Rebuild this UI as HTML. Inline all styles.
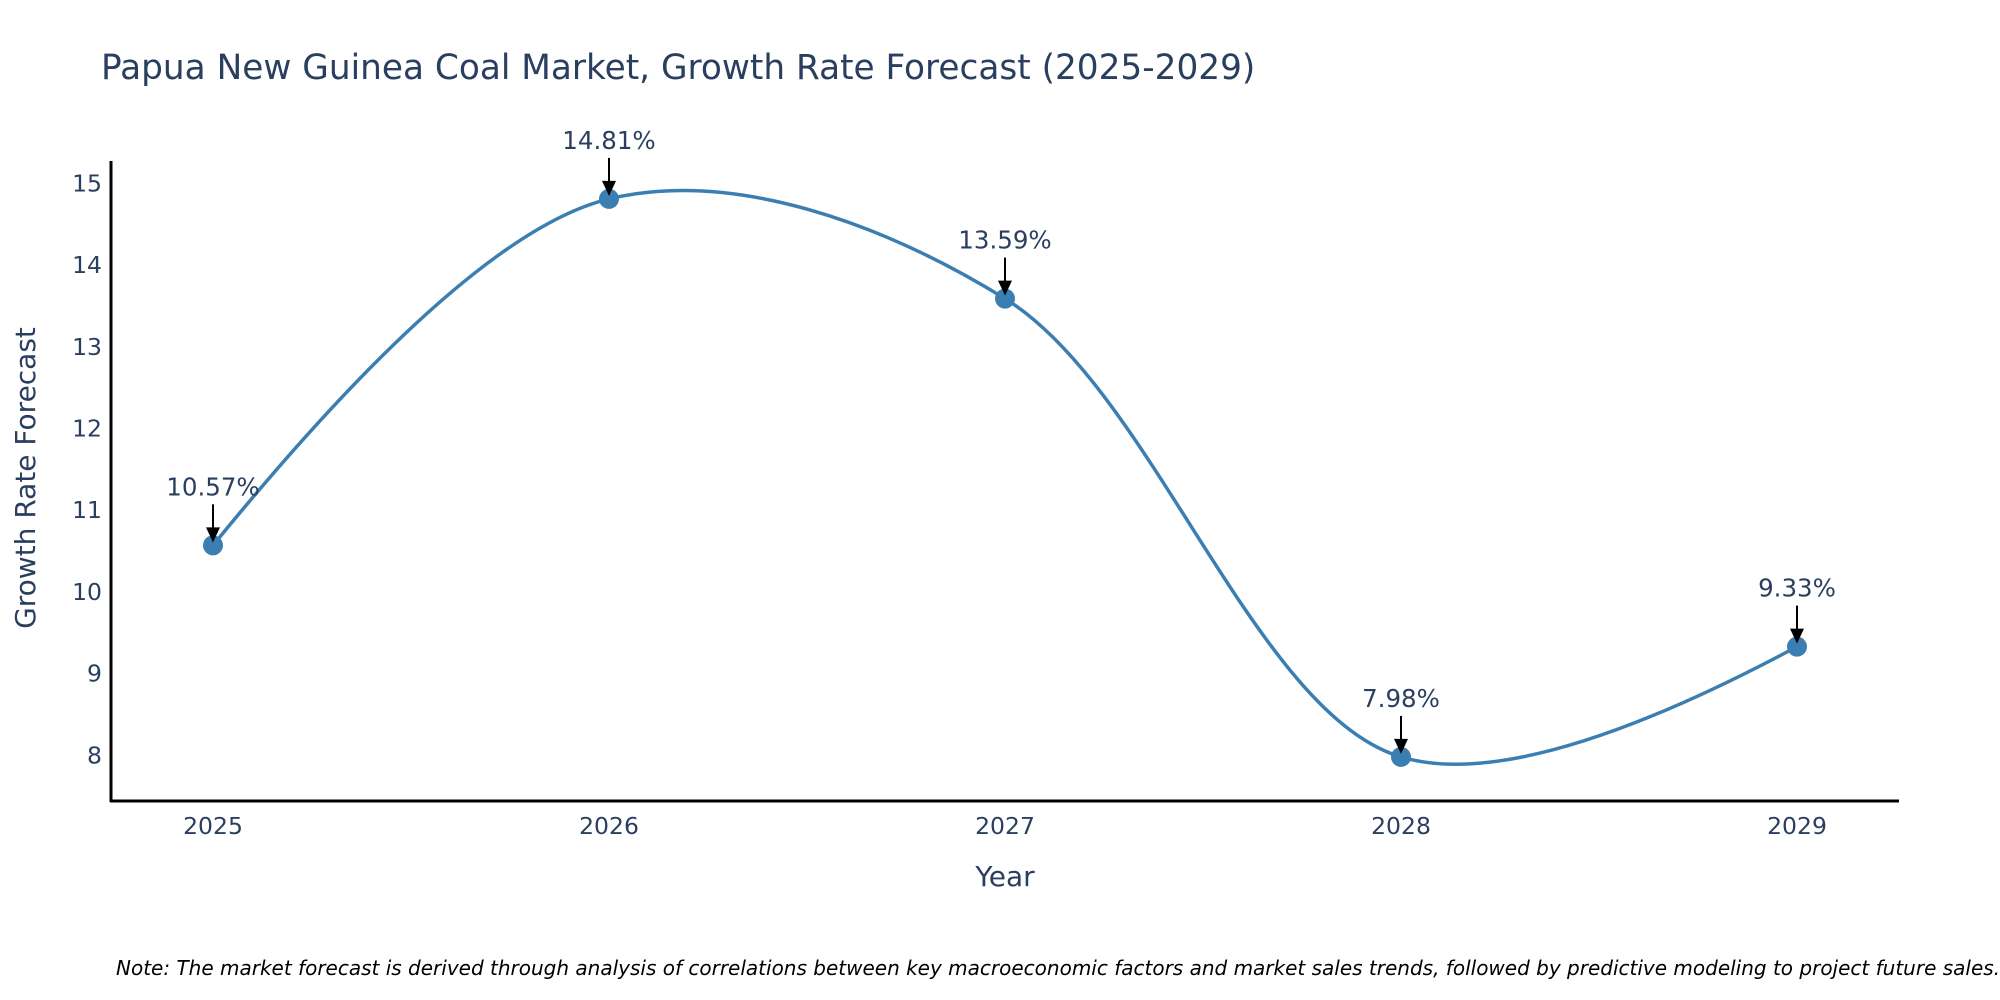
<!DOCTYPE html>
<html><head><meta charset="utf-8"><style>
html,body{margin:0;padding:0;background:#fff;overflow:hidden}
svg{display:block;font-family:"DejaVu Sans","Liberation Sans",sans-serif}
</style></head><body>
<svg id="chart" width="2000" height="1000" viewBox="0 0 2000 1000">
<text x="101" y="79" font-size="34.3" fill="#2a3f5f">Papua New Guinea Coal Market, Growth Rate Forecast (2025-2029)</text>
<g id="yticks"></g>
<g id="xticks"></g>
<line x1="111" y1="161" x2="111" y2="802" stroke="#000" stroke-width="3"/>
<line x1="110" y1="801" x2="1899" y2="801" stroke="#000" stroke-width="3"/>
<g id="series"></g>
<g id="annots"></g>
<text x="1005" y="886" font-size="28" fill="#2a3f5f" text-anchor="middle">Year</text>
<text transform="translate(35,478) rotate(-90)" font-size="28" fill="#2a3f5f" text-anchor="middle">Growth Rate Forecast</text>
<text x="116" y="975" font-size="20" font-style="italic" fill="#000">Note: The market forecast is derived through analysis of correlations between key macroeconomic factors and market sales trends, followed by predictive modeling to project future sales.</text>
</svg>
<script>
const categories = ["2025","2026","2027","2028","2029"];
const values = [10.57, 14.81, 13.59, 7.98, 9.33];
const labels = ["10.57%","14.81%","13.59%","7.98%","9.33%"];
const yTicks = [8,9,10,11,12,13,14,15];

const NS = "http://www.w3.org/2000/svg";
function xs(i){ return 213 + i*396; }
function ys(v){ return 183.4 + (15 - v)*81.7; }
function mk(tag, attrs, parent){ const e=document.createElementNS(NS,tag); for(const k in attrs) e.setAttribute(k,attrs[k]); parent.appendChild(e); return e; }

const yg=document.getElementById('yticks');
yTicks.forEach(t=>{
  const e=mk('text',{x:102,y:ys(t)+8,'font-size':23.5,fill:'#2a3f5f','text-anchor':'end'},yg);
  e.textContent=t;
  
  
});
const xg=document.getElementById('xticks');
categories.forEach((c,i)=>{
  const e=mk('text',{x:xs(i),y:834,'font-size':23.5,fill:'#2a3f5f','text-anchor':'middle'},xg);
  e.textContent=c;
  
  
});

const pts=values.map((v,i)=>[xs(i),ys(v)]);
function tangent(p0,p1,p2,s){
  const d1x=p0[0]-p1[0],d1y=p0[1]-p1[1],d2x=p2[0]-p1[0],d2y=p2[1]-p1[1];
  const d1a=Math.pow(d1x*d1x+d1y*d1y,0.25),d2a=Math.pow(d2x*d2x+d2y*d2y,0.25);
  const nx=(d2a*d2a*d1x-d1a*d1a*d2x)*s,ny=(d2a*d2a*d1y-d1a*d1a*d2y)*s;
  const den1=3*d2a*(d1a+d2a),den2=3*d1a*(d1a+d2a);
  return [[p1[0]+nx/den1,p1[1]+ny/den1],[p1[0]-nx/den2,p1[1]-ny/den2]];
}
const tg=[];
for(let i=1;i<pts.length-1;i++) tg.push(tangent(pts[i-1],pts[i],pts[i+1],1));
const P=p=>p[0].toFixed(2)+','+p[1].toFixed(2);
let d='M'+P(pts[0])+'Q'+P(tg[0][0])+' '+P(pts[1]);
for(let i=2;i<pts.length-1;i++) d+='C'+P(tg[i-2][1])+' '+P(tg[i-1][0])+' '+P(pts[i]);
d+='Q'+P(tg[tg.length-1][1])+' '+P(pts[pts.length-1]);
const sg=document.getElementById('series');
const line=mk('path',{d:d,fill:'none',stroke:'#3b7fb2','stroke-width':3.5},sg);


pts.forEach(p=>{
  const c=mk('circle',{cx:p[0],cy:p[1],r:10,fill:'#3b7fb2'},sg);
  
  
});
const ag=document.getElementById('annots');
pts.forEach((p,i)=>{
  const top=p[1]-41, tip=p[1]-3;
  const l=mk('line',{x1:p[0],y1:top,x2:p[0],y2:tip-12,stroke:'#000','stroke-width':2},ag);
  
  
  const h=mk('polygon',{points:`${p[0]-7},${tip-15} ${p[0]+7},${tip-15} ${p[0]},${tip}`,fill:'#000'},ag);
  
  
  const t=mk('text',{x:p[0],y:p[1]-50,'font-size':24.5,fill:'#2a3f5f','text-anchor':'middle'},ag);
  t.textContent=labels[i];
  
  
});
</script>
</body></html>
